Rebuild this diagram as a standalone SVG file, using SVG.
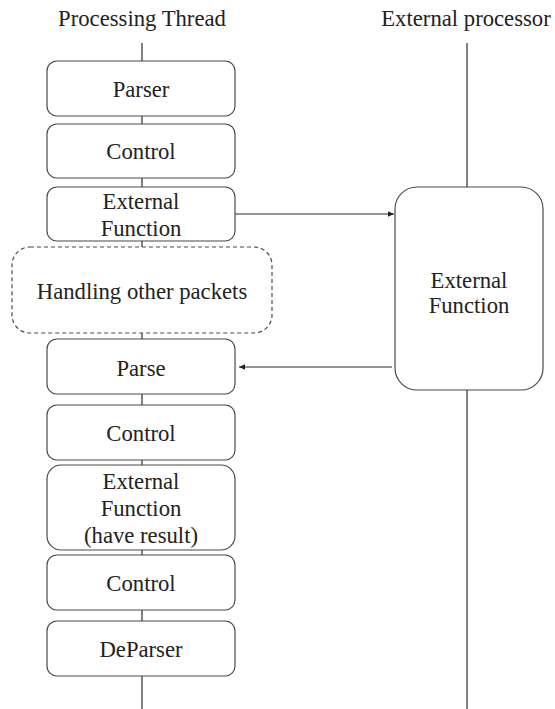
<svg xmlns="http://www.w3.org/2000/svg" width="555" height="709" viewBox="0 0 555 709">
<style>
.bx{fill:#fff;stroke:#4a4a4a;stroke-width:1.2}
.dash{fill:#fff;stroke:#4a4a4a;stroke-width:1.2;stroke-dasharray:4 3}
.ln{fill:none;stroke:#2a2a2a;stroke-width:1.2}
.t{font-family:'Liberation Serif','Times New Roman',serif;font-size:22.7px;fill:#222;text-anchor:middle}
</style>
<defs>
<marker id="ah" viewBox="0 0 10 10" refX="10" refY="5" markerWidth="7" markerHeight="6" orient="auto" markerUnits="userSpaceOnUse">
<path d="M0,0.5 L10,5 L0,9.5 Z" fill="#222"/>
</marker>
</defs>
<g id="connectors">
<line class="ln" x1="142" y1="43" x2="142" y2="709"/>
<line class="ln" x1="467" y1="43" x2="467" y2="709"/>
<line class="ln" x1="235" y1="214" x2="394" y2="214" marker-end="url(#ah)"/>
<line class="ln" x1="392" y1="367" x2="239" y2="367" marker-end="url(#ah)"/>
</g>
<g id="title-processing"><text class="t" x="142" y="26">Processing Thread</text></g>
<g id="title-external"><text class="t" x="466" y="26">External processor</text></g>
<g id="parser"><rect class="bx" x="47" y="61" width="188" height="55" rx="10"/><text class="t" x="141" y="97">Parser</text></g>
<g id="control1"><rect class="bx" x="47" y="124" width="188" height="54" rx="10"/><text class="t" x="141" y="159">Control</text></g>
<g id="extfunc1"><rect class="bx" x="47" y="187" width="188" height="54" rx="10"/><text class="t" x="141" y="209">External</text><text class="t" x="141" y="236">Function</text></g>
<g id="handling"><rect class="dash" x="12" y="247" width="260" height="86" rx="18"/><text class="t" x="142" y="299">Handling other packets</text></g>
<g id="parse"><rect class="bx" x="47" y="339" width="188" height="55" rx="10"/><text class="t" x="141" y="376">Parse</text></g>
<g id="control2"><rect class="bx" x="47" y="405" width="188" height="55" rx="10"/><text class="t" x="141" y="441">Control</text></g>
<g id="extfunc2"><rect class="bx" x="47" y="465" width="188" height="85" rx="14"/><text class="t" x="141" y="489">External</text><text class="t" x="141" y="516">Function</text><text class="t" x="141" y="543">(have result)</text></g>
<g id="control3"><rect class="bx" x="47" y="555" width="188" height="55" rx="10"/><text class="t" x="141" y="591">Control</text></g>
<g id="deparser"><rect class="bx" x="47" y="621" width="188" height="55" rx="10"/><text class="t" x="141" y="657">DeParser</text></g>
<g id="external-function"><rect class="bx" x="395" y="187" width="148" height="203" rx="22"/><text class="t" x="469" y="288">External</text><text class="t" x="469" y="313">Function</text></g>
</svg>
